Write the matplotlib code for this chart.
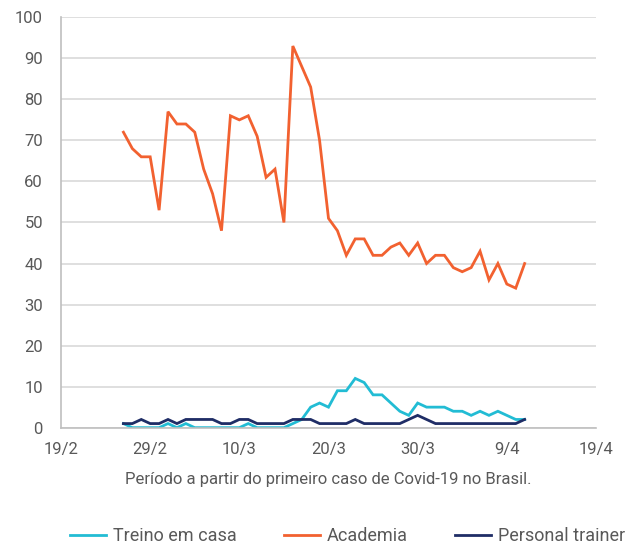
import matplotlib
matplotlib.use("Agg")
import matplotlib.pyplot as plt
import matplotlib.dates as mdates
from matplotlib.ticker import FixedLocator
import pandas as pd

start_date = "2020-02-26"
tick_labels = ["19/2", "29/2", "10/3", "20/3", "30/3", "9/4", "19/4"]
tick_dates = ["2020-02-19", "2020-02-29", "2020-03-10", "2020-03-20",
              "2020-03-30", "2020-04-09", "2020-04-19"]

academia = [72, 68, 66, 66, 53, 77, 74, 74, 72, 63, 57, 48, 76, 75, 76, 71,
            61, 63, 50, 93, 88, 83, 70, 51, 48, 42, 46, 46, 42, 42, 44, 45,
            42, 45, 40, 42, 42, 39, 38, 39, 43, 36, 40, 35, 34, 40]
treino_casa = [1, 0, 0, 0, 0, 1, 0, 1, 0, 0, 0, 0, 0, 0, 1, 0,
               0, 0, 0, 1, 2, 5, 6, 5, 9, 9, 12, 11, 8, 8, 6, 4,
               3, 6, 5, 5, 5, 4, 4, 3, 4, 3, 4, 3, 2, 2]
personal = [1, 1, 2, 1, 1, 2, 1, 2, 2, 2, 2, 1, 1, 2, 2, 1,
            1, 1, 1, 2, 2, 2, 1, 1, 1, 1, 2, 1, 1, 1, 1, 1,
            2, 3, 2, 1, 1, 1, 1, 1, 1, 1, 1, 1, 1, 2]

series_names = ["Treino em casa", "Academia", "Personal trainer"]
colors = ["#22BCD4", "#F26130", "#1F2D66"]

dates = pd.date_range(start_date, periods=len(academia), freq="D")

plt.rcParams['font.family'] = ['Roboto', 'DejaVu Sans']

fig = plt.figure(figsize=(6.33, 5.49), dpi=100)
ax = fig.add_axes([0.0964, 0.221, 0.8451, 0.7475])

for vals, name, c in zip([treino_casa, academia, personal], series_names, colors):
    ax.plot(dates, vals, color=c, lw=2.0, label=name, solid_joinstyle='miter')

xt = [mdates.date2num(pd.Timestamp(d)) for d in tick_dates]
ax.set_xlim(xt[0], xt[-1])
ax.xaxis.set_major_locator(FixedLocator(xt))
ax.set_xticklabels(tick_labels)
ax.set_ylim(0, 100)
ax.set_yticks(range(0, 101, 10))

ax.grid(axis='y', color='#D9D9D9', lw=1.2)
ax.set_axisbelow(True)
for s in ['top', 'right']:
    ax.spines[s].set_visible(False)
for s in ['left', 'bottom']:
    ax.spines[s].set_color('#BFBFBF')
    ax.spines[s].set_linewidth(1.2)
ax.tick_params(length=0, labelsize=12, colors='#595959')
ax.tick_params(axis='x', pad=10)
ax.tick_params(axis='y', pad=13)

ax.set_xlabel("Período a partir do primeiro caso de Covid-19 no Brasil.",
              fontsize=12, color='#595959', labelpad=11)

fig.legend(loc='lower center', bbox_to_anchor=(0.549, -0.01), ncol=3,
           frameon=False, fontsize=13, handlelength=2.0, columnspacing=2.6,
           labelcolor='#595959', handletextpad=0.4, borderpad=0.0)

fig.savefig("out.png", dpi=100)
